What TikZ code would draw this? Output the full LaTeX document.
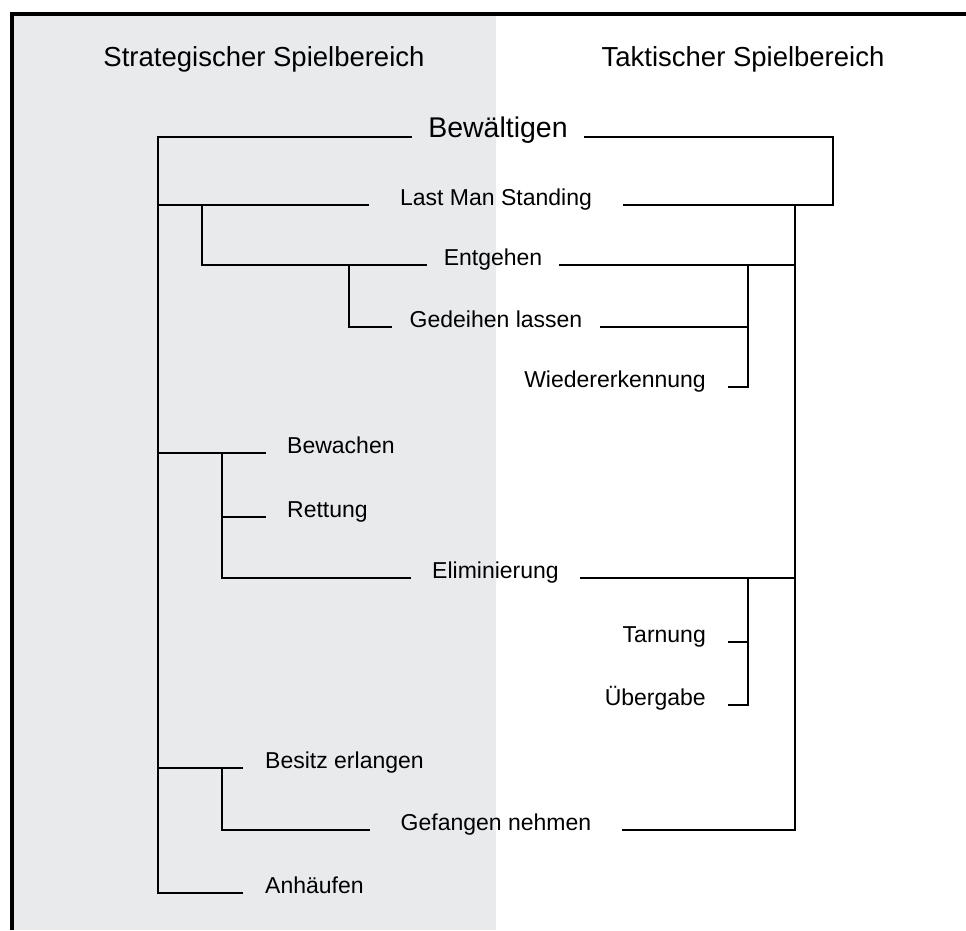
\documentclass[tikz,border=0pt]{standalone}
\usepackage{fontspec}
\setmainfont{Liberation Sans}
\definecolor{panel}{HTML}{E9EAEC}
\begin{document}
\begin{tikzpicture}[x=1pt,y=-1pt,
  ln/.style={line width=2.5pt, line join=miter},
  frame/.style={line width=4pt, line join=miter},
  lbl/.style={font=\fontsize{23}{28}\selectfont, inner sep=0pt},
  big/.style={font=\fontsize{28.5}{34}\selectfont, inner sep=0pt},
  hdr/.style={font=\fontsize{27.5}{33}\selectfont, inner sep=0pt, anchor=base}]
\useasboundingbox (0,0) rectangle (966,930);
\fill[panel] (14,16) rectangle (496,930);
\draw[frame] (12,930) -- (12,14) -- (966,14);

% headers
\node[hdr] (hs) at (264,66) {Strategischer Spielbereich};
\node[hdr] (ht) at (743,66) {Taktischer Spielbereich};

% centred labels (node borders = line ends)
\node[big, anchor=base, minimum width=172pt] (bew) at (498,137) {Bewältigen};
\node[lbl, anchor=base, minimum width=254pt] (lms) at (496,205) {Last Man Standing};
\node[lbl, anchor=base, minimum width=132pt] (ent) at (493,265) {Entgehen};
\node[lbl, anchor=base, minimum width=208pt] (ged) at (496,327) {Gedeihen lassen};
\node[lbl, anchor=base, minimum width=169pt] (eli) at (495.5,578) {Eliminierung};
\node[lbl, anchor=base, minimum width=252pt] (gef) at (496,830) {Gefangen nehmen};

% left-branch labels
\node[lbl, anchor=base west, inner xsep=21pt] (bwa) at (266,453) {Bewachen};
\node[lbl, anchor=base west, inner xsep=21pt] (ret) at (266,517) {Rettung};
\node[lbl, anchor=base west, inner xsep=22pt] (bes) at (243,768) {Besitz erlangen};
\node[lbl, anchor=base west, inner xsep=22pt] (anh) at (243,893) {Anhäufen};

% right-branch labels
\node[lbl, anchor=base east, inner xsep=22pt] (wie) at (728,387) {Wiedererkennung};
\node[lbl, anchor=base east, inner xsep=22pt] (tar) at (728,642) {Tarnung};
\node[lbl, anchor=base east, inner xsep=22pt] (ueb) at (728,705) {Übergabe};

% junction coordinates
\coordinate (tT) at (158,137);
\coordinate (tB) at (158,893);
\coordinate (tL) at (158,205);
\coordinate (tW) at (158,453);
\coordinate (tS) at (158,768);
\coordinate (aT) at (202,205);
\coordinate (aB) at (202,265);
\coordinate (bT) at (349,265);
\coordinate (bB) at (349,327);
\coordinate (cT) at (222,453);
\coordinate (cM) at (222,517);
\coordinate (cB) at (222,578);
\coordinate (dT) at (222,768);
\coordinate (dB) at (222,830);
\coordinate (rT) at (833,137);
\coordinate (rB) at (833,205);
\coordinate (sT) at (795,205);
\coordinate (sE) at (795,265);
\coordinate (sL) at (795,578);
\coordinate (sB) at (795,830);
\coordinate (uT) at (748,265);
\coordinate (uG) at (748,327);
\coordinate (uB) at (748,387);
\coordinate (vT) at (748,578);
\coordinate (vM) at (748,642);
\coordinate (vB) at (748,705);

% left side tree
\draw[ln] (bew.base west) -- (tT) -- (tB) -- (anh.base west);
\draw[ln] (tL) -- (lms.base west);
\draw[ln] (aT) -- (aB) -- (ent.base west);
\draw[ln] (bT) -- (bB) -- (ged.base west);
\draw[ln] (tW) -- (bwa.base west);
\draw[ln] (cT) -- (cB) -- (eli.base west);
\draw[ln] (cM) -- (ret.base west);
\draw[ln] (tS) -- (bes.base west);
\draw[ln] (dT) -- (dB) -- (gef.base west);

% right side tree
\draw[ln] (bew.base east) -- (rT) -- (rB) -- (lms.base east);
\draw[ln] (sT) -- (sB) -- (gef.base east);
\draw[ln] (ent.base east) -- (sE);
\draw[ln] (eli.base east) -- (sL);
\draw[ln] (ged.base east) -- (uG);
\draw[ln] (uT) -- (uB) -- (wie.base east);
\draw[ln] (vT) -- (vB) -- (ueb.base east);
\draw[ln] (tar.base east) -- (vM);
\end{tikzpicture}
\end{document}
